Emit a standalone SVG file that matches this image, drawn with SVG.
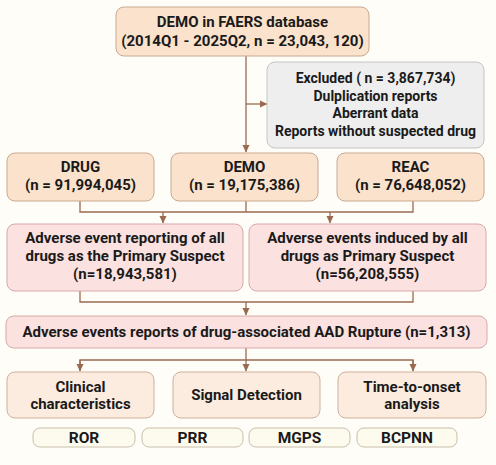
<svg xmlns="http://www.w3.org/2000/svg" width="496" height="465" viewBox="0 0 496 465">
<defs>
<marker id="ah" markerWidth="8" markerHeight="8" refX="7" refY="4" orient="auto" markerUnits="userSpaceOnUse">
<path d="M0,0.5 L7.5,4 L0,7.5 Z" fill="#9a6a50"/>
</marker>
<style>
text{font-family:Roboto,"Liberation Sans",sans-serif;font-weight:bold;fill:#1a1a1a;text-anchor:middle}
.t14{font-size:15px}
.t13{font-size:14px}
.t15{font-size:15.5px}
.peach{fill:#fbe2cc;stroke:#c9a990;stroke-width:1}
.gray{fill:#eeeeee;stroke:#c4c4c4;stroke-width:1}
.pink{fill:#fbe1df;stroke:#d6aaa8;stroke-width:1}
.light{fill:#fcece0;stroke:#cfb09c;stroke-width:1}
.sub{fill:#fdfbee;stroke:#c9bea9;stroke-width:1}
.con{fill:none;stroke:#9a6a50;stroke-width:1.3}
</style>
</defs>
<rect width="496" height="465" fill="#fefdf8"/>
<g id="connectors">
<path class="con" d="M246,56 V152" marker-end="url(#ah)"/>
<path class="con" d="M246,104 H267" marker-end="url(#ah)"/>
<path class="con" d="M80,201 V212 H413 V201 M246,201 V212"/>
<path class="con" d="M163,212 V223" marker-end="url(#ah)"/>
<path class="con" d="M330,212 V223" marker-end="url(#ah)"/>
<path class="con" d="M80,291 V302 H413 V291"/>
<path class="con" d="M246,302 V315" marker-end="url(#ah)"/>
<path class="con" d="M246,348 V360 M80,371 V360 H413 V371"/>
<path class="con" d="M80,360 V371" marker-end="url(#ah)"/>
<path class="con" d="M246,360 V371" marker-end="url(#ah)"/>
<path class="con" d="M413,360 V371" marker-end="url(#ah)"/>
</g>
<g id="faers">
<rect class="peach" x="116" y="7" width="253" height="49" rx="8"/>
<text class="t14" x="242.5" y="27">DEMO in FAERS database</text>
<text class="t14" x="242.5" y="46">(2014Q1 - 2025Q2, n = 23,043, 120)</text>
</g>
<g id="excluded">
<rect class="gray" x="267" y="62" width="217" height="86" rx="8"/>
<text class="t13" x="375.5" y="83">Excluded ( n = 3,867,734)</text>
<text class="t13" x="375.5" y="100.5">Dulplication reports</text>
<text class="t13" x="375.5" y="118">Aberrant data</text>
<text class="t13" x="375.5" y="135.5">Reports without suspected drug</text>
</g>
<g id="drug">
<rect class="peach" x="7" y="153" width="147" height="48" rx="8"/>
<text class="t14" x="80.5" y="172">DRUG</text>
<text class="t14" x="80.5" y="190">(n = 91,994,045)</text>
</g>
<g id="demo">
<rect class="peach" x="171" y="153" width="147" height="48" rx="8"/>
<text class="t14" x="244.5" y="172">DEMO</text>
<text class="t14" x="244.5" y="190">(n = 19,175,386)</text>
</g>
<g id="reac">
<rect class="peach" x="337" y="153" width="147" height="48" rx="8"/>
<text class="t14" x="410.5" y="172">REAC</text>
<text class="t14" x="410.5" y="190">(n = 76,648,052)</text>
</g>
<g id="ae-all">
<rect class="pink" x="7" y="224" width="236" height="67" rx="8"/>
<text class="t14" x="125" y="243">Adverse event reporting of all</text>
<text class="t14" x="125" y="261">drugs as the Primary Suspect</text>
<text class="t14" x="125" y="279">(n=18,943,581)</text>
</g>
<g id="ae-induced">
<rect class="pink" x="249" y="224" width="237" height="67" rx="8"/>
<text class="t14" x="367.5" y="243">Adverse events induced by all</text>
<text class="t14" x="367.5" y="261">drugs as Primary Suspect</text>
<text class="t14" x="367.5" y="279">(n=56,208,555)</text>
</g>
<g id="aad">
<rect class="pink" x="6" y="316" width="481" height="32" rx="8"/>
<text class="t14" x="246.5" y="337">Adverse events reports of drug-associated AAD Rupture (n=1,313)</text>
</g>
<g id="clinical">
<rect class="light" x="7" y="372" width="147" height="46" rx="8"/>
<text class="t14" x="80.5" y="392">Clinical</text>
<text class="t14" x="80.5" y="409">characteristics</text>
</g>
<g id="signal">
<rect class="light" x="173" y="372" width="147" height="46" rx="8"/>
<text class="t14" x="246.5" y="400">Signal Detection</text>
</g>
<g id="tto">
<rect class="light" x="338" y="372" width="148" height="46" rx="8"/>
<text class="t14" x="412" y="392">Time-to-onset</text>
<text class="t14" x="412" y="409">analysis</text>
</g>
<g id="ror">
<rect class="sub" x="33" y="428" width="102" height="19" rx="7"/>
<text class="t15" x="84" y="443">ROR</text>
</g>
<g id="prr">
<rect class="sub" x="142" y="428" width="101" height="19" rx="7"/>
<text class="t15" x="192.5" y="443">PRR</text>
</g>
<g id="mgps">
<rect class="sub" x="249" y="428" width="101" height="19" rx="7"/>
<text class="t15" x="299.5" y="443">MGPS</text>
</g>
<g id="bcpnn">
<rect class="sub" x="357" y="428" width="100" height="19" rx="7"/>
<text class="t15" x="407" y="443">BCPNN</text>
</g>
</svg>
